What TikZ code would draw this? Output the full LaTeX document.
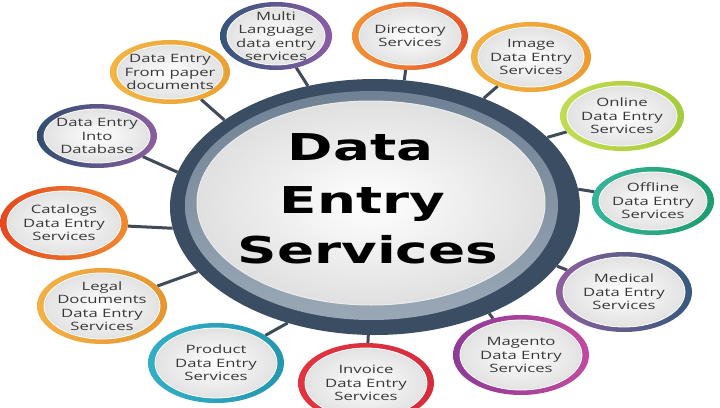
\documentclass[tikz,border=0pt]{standalone}
\usepackage{fontspec}
\usetikzlibrary{shapes.geometric,backgrounds}
\newfontfamily\bubblefont[FakeStretch=1.45]{Open Sans}
\newfontfamily\hubfont[FakeStretch=1.48]{DejaVu Sans}

\definecolor{hubdark}{HTML}{3A4D63}
\definecolor{hubband}{HTML}{6F8194}
\definecolor{hubbandlight}{HTML}{9AA8B6}
\definecolor{hubcore}{HTML}{E0E0E0}
\definecolor{linkgray}{HTML}{3F4B58}
\definecolor{padgray}{HTML}{E2E2E2}
\definecolor{captext}{HTML}{383838}
% ring colours (left / right)
\definecolor{multiA}{HTML}{34557A}\definecolor{multiB}{HTML}{8A5CA8}
\definecolor{dirA}{HTML}{F39237}\definecolor{dirB}{HTML}{E4572E}
\definecolor{imgA}{HTML}{F2B245}\definecolor{imgB}{HTML}{EE9B2F}
\definecolor{onA}{HTML}{C2DC52}\definecolor{onB}{HTML}{A5CB3A}
\definecolor{offA}{HTML}{35B59A}\definecolor{offB}{HTML}{1E9C6E}
\definecolor{medA}{HTML}{8E5F9E}\definecolor{medB}{HTML}{355A7C}
\definecolor{magA}{HTML}{8E3A96}\definecolor{magB}{HTML}{C24AA0}
\definecolor{invA}{HTML}{E2343F}\definecolor{invB}{HTML}{D62C3C}
\definecolor{prodA}{HTML}{30AFC6}\definecolor{prodB}{HTML}{2496B0}
\definecolor{legA}{HTML}{F3B046}\definecolor{legB}{HTML}{E6962E}
\definecolor{catA}{HTML}{E5481F}\definecolor{catB}{HTML}{F08A2E}
\definecolor{dbA}{HTML}{2F4E6E}\definecolor{dbB}{HTML}{8C5E9E}
\definecolor{docA}{HTML}{F3B442}\definecolor{docB}{HTML}{E9A233}

\pgfdeclarelayer{sheet}
\pgfsetlayers{sheet,background,main}

\tikzset{
  ringbox/.style={ellipse, inner sep=0pt, outer sep=0pt},
  padbox/.style={ellipse, inner sep=0pt, inner color=white, outer color=padgray,
    draw=white, line width=0.8pt},
  bubtext/.style={align=center, inner sep=0pt, text=captext,
    font=\bubblefont\fontsize{11.5}{13.5}\selectfont},
  hubtext/.style={anchor=base, inner sep=0pt,
    font=\hubfont\bfseries\fontsize{37}{40}\selectfont},
  link/.style={draw=linkgray, line width=3pt},
}

% one service bubble: name, x, y, width, height, ring colours, caption
\newcommand\topic[8]{%
  \node[ringbox, minimum width=#4pt, minimum height=#5pt,
        left color=#6, right color=#7] (#1) at (#2,#3) {};
  \node[padbox, minimum width=#4pt-14pt, minimum height=#5pt-10pt] (#1-pad) at (#1) {};
  \node[bubtext] (#1-txt) at (#1) {#8};
}

\begin{document}
\begin{tikzpicture}[x=1pt, y=-1pt]
\useasboundingbox (0,0) rectangle (720,407);
\begin{pgfonlayer}{sheet}
  \fill[white] (0,0) rectangle (720,407);
\end{pgfonlayer}

% central hub
\node[ellipse, inner sep=0pt, fill=hubdark, minimum width=410pt, minimum height=256pt] (hub) at (375,207) {};
\node[ellipse, inner sep=0pt, top color=hubband, bottom color=hubbandlight,
      minimum width=373pt, minimum height=229pt] (hub-band) at (371.5,205.5) {};
\node[ellipse, inner sep=0pt, inner color=white, outer color=hubcore,
      draw=white!85!gray, line width=1pt,
      minimum width=348pt, minimum height=204pt] (hub-core) at (371,203) {};
\node[hubtext] (title1) at (360.5,160) {Data};
\node[hubtext] (title2) at (362.5,213) {Entry};
\node[hubtext] (title3) at (368,263) {Services};

% service bubbles
\topic{multi}{276}{36}{112}{68}{multiA}{multiB}{Multi\\Language\\data entry\\services}
\topic{dir}{410}{36}{116}{68}{dirA}{dirB}{Directory\\Services}
\topic{img}{531}{57}{120}{70}{imgA}{imgB}{Image\\Data Entry\\Services}
\topic{online}{622}{116}{124}{70}{onA}{onB}{Online\\Data Entry\\Services}
\topic{offline}{653}{201}{122}{68}{offA}{offB}{Offline\\Data Entry\\Services}
\topic{medical}{624}{292}{136}{80}{medA}{medB}{Medical\\Data Entry\\Services}
\topic{magento}{521}{355}{136}{80}{magA}{magB}{Magento\\Data Entry\\Services}
\topic{invoice}{366}{383}{136}{80}{invA}{invB}{Invoice\\Data Entry\\Services}
\topic{product}{216}{363}{136}{80}{prodA}{prodB}{Product\\Data Entry\\Services}
\topic{legal}{102}{306}{130}{76}{legA}{legB}{Legal\\Documents\\Data Entry\\Services}
\topic{catalogs}{64}{223}{128}{74}{catA}{catB}{Catalogs\\Data Entry\\Services}
\topic{database}{97}{136}{120}{64}{dbA}{dbB}{Data Entry\\Into\\Database}
\topic{fromdocs}{170}{72}{120}{64}{docA}{docB}{Data Entry\\From paper\\documents}

% spokes from each bubble to the hub rim
\begin{pgfonlayer}{background}
  \draw[link] (multi) -- (hub.119);
  \draw[link] (dir) -- (hub.77);
  \draw[link] (img) -- (hub.45);
  \draw[link] (online) -- (hub.22);
  \draw[link] (offline) -- (hub.5);
  \draw[link] (medical) -- (hub.342);
  \draw[link] (magento) -- (hub.317);
  \draw[link] (invoice) -- (hub.267);
  \draw[link] (product) -- (hub.233);
  \draw[link] (legal) -- (hub.200);
  \draw[link] (catalogs) -- (hub.186);
  \draw[link] (database) -- (hub.170);
  \draw[link] (fromdocs) -- (hub.150);
\end{pgfonlayer}
\end{tikzpicture}
\end{document}
